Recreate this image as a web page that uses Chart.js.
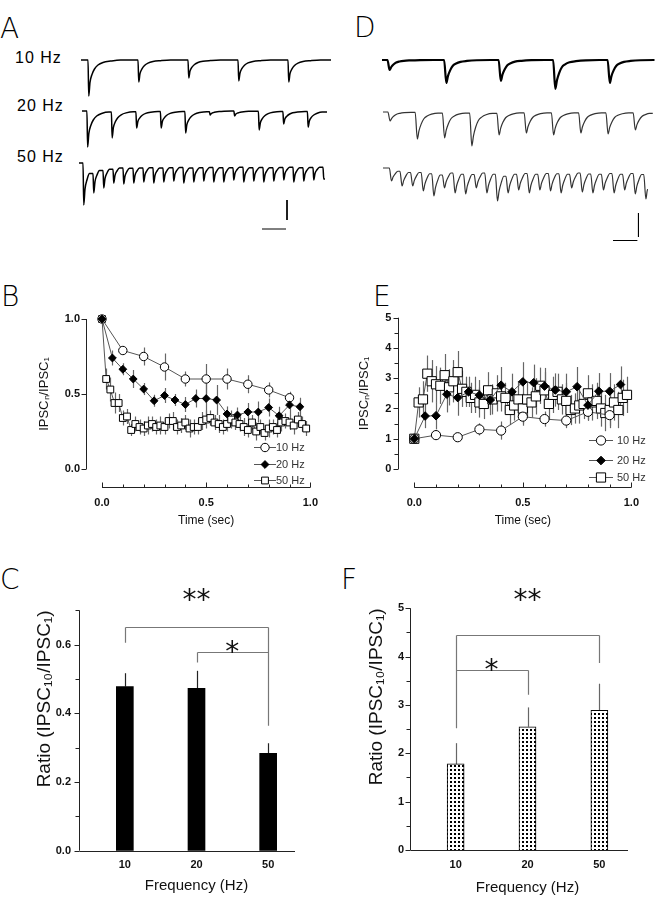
<!DOCTYPE html>
<html>
<head>
<meta charset="utf-8">
<script src="https://cdn.jsdelivr.net/npm/chart.js@4.4.1/dist/chart.umd.min.js"></script>
<style>
  body { margin: 0; background: #fff; }
  #fig { position: relative; width: 666px; height: 899px; overflow: hidden; background: #fff; }
  .letter { position: absolute; font-family: "DejaVu Sans", sans-serif; font-weight: 200; font-size: 28px; line-height: 1; color: #000; }
  .hz { position: absolute; font-family: "Liberation Sans", Arial, sans-serif; font-size: 16px; letter-spacing: 1px; line-height: 1; color: #000; }
  canvas { position: absolute; }
</style>
</head>
<body>
<div id="fig">
  <div class="letter" style="left:0px;top:15px">A</div>
  <div class="letter" style="left:354px;top:14px">D</div>
  <div class="letter" style="left:1px;top:283px">B</div>
  <div class="letter" style="left:373px;top:283px">E</div>
  <div class="letter" style="left:0px;top:566px">C</div>
  <div class="letter" style="left:341px;top:566px">F</div>

  <div class="hz" style="left:15px;top:50px">10 Hz</div>
  <div class="hz" style="left:17px;top:98px">20 Hz</div>
  <div class="hz" style="left:17px;top:149px">50 Hz</div>

  <canvas id="trA10" width="250" height="46" style="left:81px;top:54px"></canvas>
  <canvas id="trA20" width="245" height="46" style="left:82px;top:105px"></canvas>
  <canvas id="trA50" width="250" height="76" style="left:79px;top:157px"></canvas>
  <canvas id="trD10" width="273" height="40" style="left:382px;top:54px"></canvas>
  <canvas id="trD20" width="273" height="44" style="left:383px;top:106px"></canvas>
  <canvas id="trD50" width="265" height="82" style="left:383px;top:162px"></canvas>

  <canvas id="chartB" width="345" height="250" style="left:0px;top:280px"></canvas>
  <canvas id="chartE" width="333" height="250" style="left:333px;top:280px"></canvas>
  <canvas id="chartC" width="340" height="339" style="left:0px;top:560px"></canvas>
  <canvas id="chartF" width="333" height="339" style="left:333px;top:560px"></canvas>
</div>
<script>
// ---- traces (A: control, D: second condition), pulse onset in ms, peak amplitude in trace units
const pulsesA10 = [14, 114, 214, 314, 414];
const ampsA10 = [36, 22, 18, 21, 22];
const pulsesA20 = [10, 60, 110, 160, 210, 260, 310, 360, 410, 460];
const ampsA20 = [36, 27, 17, 17, 22, 4, 5, 19, 13, 16];
const pulsesA50 = [8, 28, 48, 68, 88, 108, 128, 148, 168, 188, 208, 228, 248, 268, 288, 308, 328, 348, 368, 388, 408, 428, 448, 468, 488];
const ampsA50 = [42, 30, 25, 20, 21, 20, 19, 20, 19, 18, 20, 19, 18, 19, 19, 17, 19, 18, 19, 18, 17, 19, 18, 17, 16];
const pulsesD10 = [10, 114, 214, 314, 414];
const ampsD10 = [10, 23, 21, 29, 23];
const pulsesD20 = [9, 59, 109, 159, 209, 259, 309, 359, 409, 459];
const ampsD20 = [9, 27, 26, 34, 23, 21, 23, 21, 22, 18];
const pulsesD50 = [12, 32, 52, 72, 92, 112, 132, 152, 172, 192, 212, 232, 252, 272, 292, 312, 332, 352, 372, 392, 412, 432, 452, 472, 492];
const ampsD50 = [13, 18, 18, 23, 28, 20, 25, 26, 20, 25, 33, 25, 22, 25, 22, 23, 25, 20, 24, 25, 22, 25, 22, 26, 31];

// decay of one IPSC after onset (ms, fraction of peak)
const decayA = { ms: [1.5, 4, 8, 13, 20, 30, 45, 65], frac: [1, 0.62, 0.4, 0.25, 0.14, 0.07, 0.03, 0] };
const decayD = { ms: [4, 7, 11, 16, 22, 30, 42, 60, 85], frac: [1, 0.7, 0.45, 0.25, 0.15, 0.08, 0.04, 0.01, 0] };

// ---- B / E time courses
const time10 = [0, 0.1, 0.2, 0.3, 0.4, 0.5, 0.6, 0.7, 0.8, 0.9];
const time20 = [0, 0.05, 0.1, 0.15, 0.2, 0.25, 0.3, 0.35, 0.4, 0.45, 0.5, 0.55, 0.6, 0.65, 0.7, 0.75, 0.8, 0.85, 0.9, 0.95];
const time50 = [0, 0.02, 0.04, 0.06, 0.08, 0.1, 0.12, 0.14, 0.16, 0.18, 0.2, 0.22, 0.24, 0.26, 0.28, 0.3, 0.32, 0.34, 0.36, 0.38,
  0.4, 0.42, 0.44, 0.46, 0.48, 0.5, 0.52, 0.54, 0.56, 0.58, 0.6, 0.62, 0.64, 0.66, 0.68, 0.7, 0.72, 0.74, 0.76, 0.78,
  0.8, 0.82, 0.84, 0.86, 0.88, 0.9, 0.92, 0.94, 0.96, 0.98];

const b10 = [1.0, 0.79, 0.75, 0.68, 0.60, 0.60, 0.60, 0.565, 0.527, 0.475];
const b10Err = [0, 0.03, 0.06, 0.09, 0.05, 0.10, 0.07, 0.06, 0.05, 0.04];
const b20 = [1.0, 0.74, 0.665, 0.60, 0.533, 0.455, 0.49, 0.46, 0.43, 0.47, 0.47, 0.46, 0.367, 0.36, 0.38, 0.38, 0.41, 0.355, 0.427, 0.415];
const b20Err = [0, 0.05, 0.04, 0.06, 0.04, 0.04, 0.05, 0.04, 0.05, 0.06, 0.13, 0.10, 0.05, 0.05, 0.06, 0.07, 0.06, 0.06, 0.07, 0.06];
const b50 = [1.0, 0.60, 0.53, 0.44, 0.44, 0.34, 0.35, 0.26, 0.30, 0.28, 0.27, 0.29, 0.30, 0.28, 0.29, 0.28, 0.32, 0.32, 0.28, 0.29,
  0.31, 0.27, 0.28, 0.28, 0.32, 0.33, 0.34, 0.31, 0.30, 0.28, 0.30, 0.33, 0.31, 0.30, 0.28, 0.26, 0.31, 0.25, 0.28, 0.24,
  0.27, 0.28, 0.26, 0.31, 0.32, 0.31, 0.29, 0.33, 0.30, 0.27];
const b50Err = [0, 0.07, 0.08, 0.07, 0.06, 0.05, 0.05, 0.04, 0.05, 0.05, 0.05, 0.06, 0.05, 0.05, 0.06, 0.05, 0.05, 0.06, 0.05, 0.05,
  0.05, 0.06, 0.05, 0.05, 0.06, 0.06, 0.05, 0.05, 0.06, 0.05, 0.05, 0.06, 0.05, 0.05, 0.06, 0.05, 0.05, 0.06, 0.05, 0.05,
  0.06, 0.05, 0.05, 0.06, 0.05, 0.05, 0.06, 0.05, 0.05, 0.05];

const e10 = [1.0, 1.12, 1.05, 1.31, 1.27, 1.73, 1.65, 1.60, 1.89, 1.78];
const e10Err = [0, 0.12, 0.10, 0.20, 0.30, 0.30, 0.25, 0.25, 0.30, 0.35];
const e20 = [1.0, 1.75, 1.76, 2.47, 2.36, 2.55, 2.44, 2.28, 2.77, 2.55, 2.88, 2.85, 2.74, 2.61, 2.55, 2.72, 2.11, 2.57, 2.57, 2.79];
const e20Err = [0, 0.40, 0.45, 0.60, 0.60, 0.50, 0.50, 0.50, 0.60, 0.60, 0.65, 0.60, 0.60, 0.55, 0.60, 0.65, 0.50, 0.60, 0.60, 0.60];
const e50 = [1.0, 2.2, 2.3, 3.15, 2.9, 2.8, 2.75, 3.1, 2.7, 2.9, 3.2, 2.65, 2.55, 2.35, 2.45, 2.2, 2.15, 2.6, 2.3, 2.5,
  2.4, 2.35, 1.95, 2.1, 2.3, 2.0, 2.3, 2.2, 2.4, 2.75, 2.6, 2.15, 2.45, 2.55, 2.3, 2.25, 1.95, 2.0, 2.1, 2.15,
  2.5, 2.2, 2.25, 2.0, 1.85, 1.95, 2.2, 1.95, 2.35, 2.45];
const e50Err = [0, 0.5, 0.6, 0.6, 0.7, 0.6, 0.6, 0.7, 0.6, 0.7, 0.7, 0.6, 0.5, 0.5, 0.6, 0.5, 0.5, 0.6, 0.5, 0.6,
  0.5, 0.5, 0.5, 0.5, 0.6, 0.5, 0.6, 0.5, 0.6, 0.6, 0.6, 0.5, 0.6, 0.6, 0.5, 0.6, 0.5, 0.5, 0.6, 0.5,
  0.6, 0.6, 0.6, 0.6, 0.6, 0.6, 0.6, 0.6, 0.6, 0.6];

// ---- C / F ratio of 10th to 1st IPSC
const freqLabels = ['10', '20', '50'];
const ratioC = [0.478, 0.473, 0.284];
const ratioCErr = [0.039, 0.051, 0.029];
const ratioF = [1.78, 2.55, 2.89];
const ratioFErr = [0.43, 0.40, 0.55];

const FONT = '"Liberation Sans", Arial, sans-serif';
Chart.defaults.font.family = FONT;
Chart.defaults.color = '#111';

function buildTrace(times, amps, duration, shape) {
  const pts = [{ x: 0, y: 0 }];
  let level = 0;
  times.forEach((t, i) => {
    const next = i + 1 < times.length ? times[i + 1] : duration;
    pts.push({ x: t, y: level });
    shape.ms.forEach((dt, k) => {
      if (t + dt < next) {
        level = -amps[i] * shape.frac[k];
        pts.push({ x: t + dt, y: level });
      }
    });
  });
  pts.push({ x: duration, y: level });
  return pts;
}

function makeTrace(id, times, amps, duration, shape, pxPerMs, yMin, style, scaleBar) {
  const canvas = document.getElementById(id);
  const datasets = [{
    data: buildTrace(times, amps, duration, shape),
    borderColor: style.color, borderWidth: style.width,
    pointRadius: 0, cubicInterpolationMode: 'monotone', clip: false
  }];
  if (scaleBar) {
    datasets.push({
      data: [
        { x: scaleBar.x, y: scaleBar.top }, { x: scaleBar.x, y: scaleBar.top - scaleBar.amp },
        { x: scaleBar.x, y: null },
        { x: scaleBar.x - 10 - scaleBar.ms, y: scaleBar.barY }, { x: scaleBar.x - 2, y: scaleBar.barY }
      ],
      borderColor: '#000', borderWidth: 1, pointRadius: 0, spanGaps: false, clip: false
    });
  }
  new Chart(canvas, {
    type: 'line',
    data: { datasets },
    options: {
      responsive: false, animation: false,
      layout: { padding: 0 },
      scales: {
        x: { type: 'linear', display: false, min: 0, max: canvas.width / pxPerMs },
        y: { display: false, min: yMin, max: yMin + canvas.height }
      },
      plugins: { legend: { display: false }, tooltip: { enabled: false } }
    }
  });
}

makeTrace('trA10', pulsesA10, ampsA10, 500, decayA, 0.5, -40, { color: '#000', width: 1.5 });
makeTrace('trA20', pulsesA20, ampsA20, 500, decayA, 0.49, -40, { color: '#000', width: 1.5 });
makeTrace('trA50', pulsesA50, ampsA50, 492, decayA, 0.5, -70, { color: '#000', width: 1.5 },
  { x: 416, top: -37, amp: 20, ms: 40, barY: -66 });
makeTrace('trD10', pulsesD10, ampsD10, 500, decayD, 0.545, -34, { color: '#000', width: 2.2 });
makeTrace('trD20', pulsesD20, ampsD20, 495, decayD, 0.545, -38, { color: '#333', width: 1.2 });
makeTrace('trD50', pulsesD50, ampsD50, 500, decayD, 0.53, -76, { color: '#333', width: 1.2 },
  { x: 482, top: -45, amp: 24, ms: 38, barY: -72.5 });

// ---- plugins
function marker(ctx, style, r, x, y, fill) {
  ctx.beginPath();
  if (style === 'circle') {
    ctx.arc(x, y, r, 0, Math.PI * 2);
  } else if (style === 'rectRot') {
    ctx.moveTo(x - r, y); ctx.lineTo(x, y - r); ctx.lineTo(x + r, y); ctx.lineTo(x, y + r); ctx.closePath();
  } else {
    const h = r * Math.SQRT1_2;
    ctx.rect(x - h, y - h, 2 * h, 2 * h);
  }
  ctx.fillStyle = fill; ctx.fill();
  ctx.strokeStyle = '#000'; ctx.lineWidth = 1; ctx.stroke();
}

const originAxes = {
  id: 'originAxes',
  afterDraw(chart, args, o) {
    const { ctx, chartArea: a, scales: { x, y } } = chart;
    const lx = Math.round(a.left - o.yGap) + 0.5;
    const ly = Math.round(a.bottom + o.xGap) + 0.5;
    ctx.save();
    ctx.strokeStyle = '#222';
    ctx.lineWidth = 1;
    ctx.beginPath();
    ctx.moveTo(lx, y.getPixelForValue(y.min));
    ctx.lineTo(lx, y.getPixelForValue(y.max));
    for (let k = 0; ; k++) {
      const v = y.min + k * o.yMinor;
      if (v > y.max + 1e-9) break;
      const major = Math.abs(v / o.yMajor - Math.round(v / o.yMajor)) < 1e-6;
      const py = Math.round(y.getPixelForValue(v)) + 0.5;
      ctx.moveTo(lx - (major ? 5 : 4), py);
      ctx.lineTo(lx, py);
    }
    const x0 = o.xFromAxis ? lx : x.getPixelForValue(x.min);
    const x1 = o.xEndInset != null ? a.right - o.xEndInset : x.getPixelForValue(x.max);
    ctx.moveTo(x0, ly);
    ctx.lineTo(x1, ly);
    if (o.xMinor) {
      for (let k = 0; ; k++) {
        const v = x.min + k * o.xMinor;
        if (v > x.max + 1e-9) break;
        const major = Math.abs(v / o.xMajor - Math.round(v / o.xMajor)) < 1e-6;
        const px = Math.round(x.getPixelForValue(v)) + 0.5;
        ctx.moveTo(px, ly);
        ctx.lineTo(px, ly - (major ? 5 : 3));
      }
    }
    ctx.stroke();
    ctx.restore();
  }
};

const errorBars = {
  id: 'errorBars',
  beforeDatasetsDraw(chart, args, o) {
    const { ctx, scales: { y } } = chart;
    ctx.save();
    ctx.strokeStyle = o.color;
    ctx.lineWidth = o.width;
    chart.data.datasets.forEach((ds, i) => {
      if (!ds.errors) return;
      chart.getDatasetMeta(i).data.forEach((el, j) => {
        const err = ds.errors[j];
        if (!err) return;
        const raw = ds.data[j];
        const v = typeof raw === 'object' ? raw.y : raw;
        const px = Math.round(el.x) + 0.5;
        ctx.beginPath();
        ctx.moveTo(px, y.getPixelForValue(o.upOnly ? v : v - err));
        ctx.lineTo(px, y.getPixelForValue(v + err));
        ctx.stroke();
      });
    });
    ctx.restore();
  }
};

const seriesKey = {
  id: 'seriesKey',
  afterDraw(chart, args, o) {
    const { ctx } = chart;
    ctx.save();
    o.labels.forEach((label, k) => {
      const ds = chart.data.datasets.find(d => d.label === label);
      const yy = o.rows[k];
      ctx.strokeStyle = '#555'; ctx.lineWidth = 1;
      ctx.beginPath();
      ctx.moveTo(o.x - o.half, yy + 0.5); ctx.lineTo(o.x + o.half, yy + 0.5);
      ctx.stroke();
      marker(ctx, ds.pointStyle, ds.pointRadius, o.x, yy + 0.5, ds.pointBackgroundColor);
      ctx.fillStyle = '#333';
      ctx.font = '11px ' + FONT;
      ctx.textAlign = 'left'; ctx.textBaseline = 'middle';
      ctx.fillText(label, o.x + o.textGap, yy + 1);
    });
    ctx.restore();
  }
};

const brackets = {
  id: 'brackets',
  afterDatasetsDraw(chart, args, o) {
    const { ctx, scales: { x, y } } = chart;
    ctx.save();
    ctx.strokeStyle = '#777';
    ctx.lineWidth = 1.2;
    o.lines.forEach(b => {
      const xa = Math.round(x.getPixelForValue(b.from)) + 0.5;
      const xb = Math.round(x.getPixelForValue(b.to)) + 0.5;
      const yt = Math.round(y.getPixelForValue(b.y)) + 0.5;
      ctx.beginPath();
      ctx.moveTo(xa, yt); ctx.lineTo(xb, yt);
      if (b.legFrom != null) { ctx.moveTo(xa, yt); ctx.lineTo(xa, y.getPixelForValue(b.legFrom)); }
      if (b.legTo != null) { ctx.moveTo(xb, yt); ctx.lineTo(xb, y.getPixelForValue(b.legTo)); }
      ctx.stroke();
    });
    ctx.fillStyle = '#111';
    ctx.font = '28px "DejaVu Sans", sans-serif';
    ctx.textAlign = 'center';
    ctx.textBaseline = 'alphabetic';
    o.stars.forEach(s => {
      ctx.fillText(s.text, x.getPixelForValue(s.at), y.getPixelForValue(s.y) + 16);
    });
    ctx.restore();
  }
};

// ---- B / E
const pairs = (ts, vs) => ts.map((t, i) => ({ x: t, y: vs[i] }));
const tickFont = { family: FONT, size: 11, weight: 'bold' };

function makeTimeCourse(id, cfg) {
  const ms = cfg.marks;
  const series = (label, t, v, err, style, r, fill, order) => ({
    label, data: pairs(t, v), errors: err,
    borderColor: '#555', borderWidth: 1, tension: 0,
    pointStyle: style, pointRadius: r, pointHoverRadius: r,
    pointBackgroundColor: fill, pointBorderColor: '#000', pointBorderWidth: 1,
    order, clip: false
  });
  new Chart(document.getElementById(id), {
    type: 'line',
    data: {
      datasets: [
        series('10 Hz', time10, cfg.v10, cfg.e10, 'circle', ms.circle, '#fff', 1),
        series('20 Hz', time20, cfg.v20, cfg.e20, 'rectRot', ms.diamond, '#000', 0),
        series('50 Hz', time50, cfg.v50, cfg.e50, 'rect', ms.square, '#fff', 2)
      ]
    },
    options: {
      responsive: false, animation: false,
      layout: { padding: { left: 0, right: cfg.padRight, top: cfg.padTop, bottom: 0 } },
      scales: {
        x: {
          type: 'linear', min: 0, max: 1,
          grid: { display: false, drawTicks: false }, border: { display: false },
          ticks: { stepSize: 0.5, maxRotation: 0, callback: v => v.toFixed(1), font: tickFont, color: '#111', padding: 27 },
          title: { display: true, text: 'Time (sec)', font: { family: FONT, size: 12 }, color: '#111', padding: { top: 0, bottom: 2 } },
          afterFit: s => { s.height = cfg.xHeight; }
        },
        y: {
          min: 0, max: cfg.yMax,
          grid: { display: false, drawTicks: false }, border: { display: false },
          ticks: { stepSize: cfg.yStep, callback: cfg.yLabel, font: tickFont, color: '#111', padding: cfg.yPad },
          title: { display: true, text: 'IPSCₙ/IPSC₁', font: { family: FONT, size: 13 }, color: '#111', padding: { top: cfg.titlePad, bottom: 0 } },
          afterFit: s => { s.width = cfg.yWidth; }
        }
      },
      plugins: {
        legend: { display: false }, tooltip: { enabled: false },
        originAxes: { yGap: cfg.yGap, xGap: cfg.xGap, yMinor: cfg.yMinor, yMajor: cfg.yStep, xMinor: 0.1, xMajor: 0.5 },
        errorBars: { color: '#666', width: 1.2, upOnly: false },
        seriesKey: cfg.key
      }
    },
    plugins: [errorBars, originAxes, seriesKey]
  });
}

makeTimeCourse('chartB', {
  v10: b10, e10: b10Err, v20: b20, e20: b20Err, v50: b50, e50: b50Err,
  marks: { circle: 4.2, diamond: 3.9, square: 4.8 },
  padTop: 39, padRight: 12, yWidth: 102, xHeight: 61,
  yMax: 1, yStep: 0.5, yMinor: 0.5, yLabel: v => v.toFixed(1), yPad: 22, titlePad: 37,
  yGap: 16, xGap: 18,
  key: { labels: ['10 Hz', '20 Hz', '50 Hz'], x: 265, rows: [167, 184, 200], half: 11, textGap: 11 }
});

makeTimeCourse('chartE', {
  v10: e10, e10: e10Err, v20: e20, e20: e20Err, v50: e50, e50: e50Err,
  marks: { circle: 4.6, diamond: 4.3, square: 6.5 },
  padTop: 37.7, padRight: 16, yWidth: 81.3, xHeight: 61,
  yMax: 5, yStep: 1, yMinor: 0.5, yLabel: v => String(v), yPad: 23, titlePad: 24,
  yGap: 16.6, xGap: 17.7,
  key: { labels: ['10 Hz', '20 Hz', '50 Hz'], x: 268, rows: [160, 180, 197], half: 12, textGap: 16 }
});

// ---- C / F
function dotPattern() {
  const c = document.createElement('canvas');
  c.width = 4; c.height = 4;
  const g = c.getContext('2d');
  g.fillStyle = '#fff'; g.fillRect(0, 0, 4, 4);
  g.fillStyle = '#000'; g.fillRect(1, 1, 2, 2);
  return g.createPattern(c, 'repeat');
}

function makeRatio(id, cfg) {
  const ctx = document.getElementById(id).getContext('2d');
  new Chart(ctx, {
    type: 'bar',
    data: {
      labels: freqLabels,
      datasets: [{
        data: cfg.values, errors: cfg.errors,
        backgroundColor: cfg.fill, borderColor: '#000', borderWidth: cfg.border,
        barThickness: 17
      }]
    },
    options: {
      responsive: false, animation: false,
      layout: { padding: { left: 0, right: cfg.padRight, top: cfg.padTop, bottom: 0 } },
      scales: {
        x: {
          grid: { display: false, drawTicks: false }, border: { display: false },
          ticks: { font: tickFont, color: '#111', padding: 8 },
          title: { display: true, text: 'Frequency (Hz)', font: { family: FONT, size: 15 }, color: '#111', padding: { top: 0, bottom: cfg.xTitlePad } },
          afterFit: s => { s.height = cfg.xHeight; }
        },
        y: {
          min: 0, max: cfg.yMax,
          grid: { display: false, drawTicks: false }, border: { display: false },
          ticks: { stepSize: cfg.yStep, includeBounds: false, callback: cfg.yLabel, font: tickFont, color: '#111', padding: cfg.yPad },
          title: { display: true, text: 'Ratio (IPSC₁₀/IPSC₁)', align: 'end', font: { family: FONT, size: 19 }, color: '#111', padding: { top: cfg.titlePad, bottom: 0 } },
          afterFit: s => { s.width = cfg.yWidth; }
        }
      },
      plugins: {
        legend: { display: false }, tooltip: { enabled: false },
        originAxes: { yGap: cfg.yGap, xGap: 0, yMinor: cfg.yMinor, yMajor: cfg.yStep, xFromAxis: true, xEndInset: cfg.xEndInset },
        errorBars: { color: cfg.errColor, width: 1.2, upOnly: true },
        brackets: cfg.brackets
      }
    },
    plugins: [errorBars, originAxes, brackets]
  });
}

makeRatio('chartC', {
  values: ratioC, errors: ratioCErr, fill: '#000', border: 0, errColor: '#222',
  padTop: 50.4, padRight: 36, yWidth: 89, xHeight: 48.3, xTitlePad: 4,
  yMax: 0.7, yStep: 0.2, yMinor: 0.1, yLabel: v => v.toFixed(1), yPad: 18, titlePad: 33.6,
  yGap: 10, xEndInset: 9,
  brackets: {
    lines: [
      { from: 0, to: 2, y: 0.653, legFrom: 0.606, legTo: 0.364 },
      { from: 1, to: 2, y: 0.578, legFrom: 0.548, legTo: null }
    ],
    stars: [{ at: 1, y: 0.751, text: '**' }, { at: 1.5, y: 0.60, text: '*' }]
  }
});

makeRatio('chartF', {
  values: ratioF, errors: ratioFErr, fill: dotPattern(), border: 1, errColor: '#666',
  padTop: 48.3, padRight: 30.7, yWidth: 86.7, xHeight: 49, xTitlePad: 2,
  yMax: 5, yStep: 1, yMinor: 0.5, yLabel: v => String(v), yPad: 15.7, titlePad: 32.3,
  yGap: 9.7, xEndInset: 7.3,
  brackets: {
    lines: [
      { from: 0, to: 2, y: 4.44, legFrom: 2.52, legTo: 3.87 },
      { from: 0, to: 1, y: 3.73, legFrom: null, legTo: 3.21 }
    ],
    stars: [{ at: 1, y: 5.32, text: '**' }, { at: 0.5, y: 3.87, text: '*' }]
  }
});
</script>
</body>
</html>
